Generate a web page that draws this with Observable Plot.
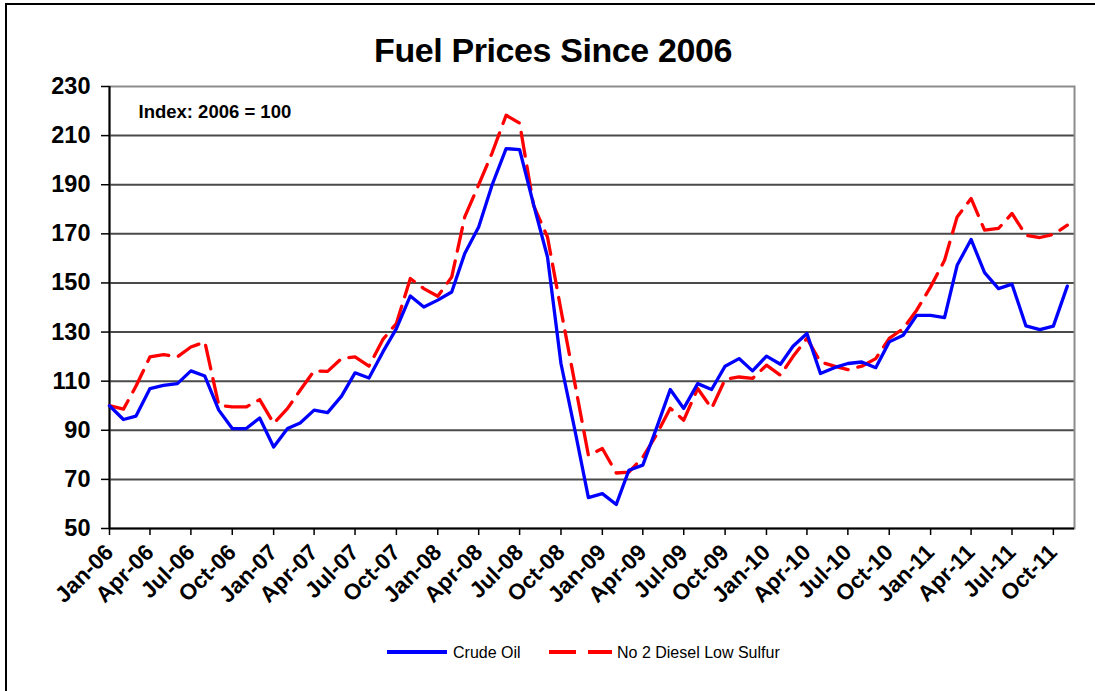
<!DOCTYPE html>
<html>
<head>
<meta charset="utf-8">
<script src="https://cdn.jsdelivr.net/npm/d3@7"></script>
<script src="https://cdn.jsdelivr.net/npm/@observablehq/plot@0.6"></script>
<style>
  body { margin: 0; background: #fff; font-family: "Liberation Sans", Arial, sans-serif; }
  #wrap { position: relative; width: 1095px; height: 691px; overflow: hidden; background: #fff; }
  #frame { position: absolute; left: 5px; top: 3px; width: 1200px; height: 1000px; border: 2px solid #000; box-sizing: border-box; }
  #title { position: absolute; left: 0; width: 1106px; top: 34px; line-height: 33px; text-align: center; font-weight: bold; font-size: 34px; color: #000; letter-spacing: -0.4px; }
  #chart { position: absolute; left: 0; top: 0; }
  #legend { position: absolute; left: 0; top: 630px; }
</style>
</head>
<body>
<div id="wrap">
  <div id="frame"></div>
  <div id="chart"></div>
  <div id="title">Fuel Prices Since 2006</div>
  <svg id="legend" width="1095" height="50" font-family="Liberation Sans, Arial, sans-serif">
    <line x1="387" y1="22" x2="447" y2="22" stroke="#0000ff" stroke-width="4"></line>
    <text x="453" y="27.5" font-size="16" fill="#000">Crude Oil</text>
    <line x1="549" y1="22" x2="612" y2="22" stroke="#ff0000" stroke-width="4" stroke-dasharray="27,12"></line>
    <text x="617" y="27.5" font-size="16" fill="#000">No 2 Diesel Low Sulfur</text>
  </svg>
</div>
<script>
const seriesNames = ["Crude Oil", "No 2 Diesel Low Sulfur"];
const months = d3.utcMonth.range(new Date(Date.UTC(2006, 0, 1)), new Date(Date.UTC(2011, 11, 1)));
const crude = [
  100, 94.4, 95.8, 107, 108.3, 109, 114.2, 112.1, 98.2, 90.7, 90.7, 95,
  83.2, 90.7, 93, 98.2, 97.2, 103.9, 113.4, 111.3, 121.9, 131.4, 144.7, 140.2,
  143, 146.3, 162, 172.8, 190, 204.7, 204.3, 182, 160.6, 117.2, 90, 62.6,
  64.2, 59.8, 73.7, 75.8, 90.7, 106.6, 98.9, 109, 106.6, 116.1, 119.2, 114.2,
  120.2, 116.9, 124.2, 129.4, 113.1, 115.5, 117.2, 117.8, 115.5, 126, 128.7, 136.8,
  136.8, 135.9, 157.2, 167.7, 154.2, 147.7, 149.5, 132.5, 131, 132.4, 148.7
];
const diesel = [
  100, 98.6, 108, 119.9, 120.8, 119.9, 123.9, 126, 100.2, 99.5, 99.5, 102.5,
  92.8, 98.9, 106.3, 114.2, 114, 119.2, 119.9, 116.1, 127, 133.5, 151.8, 147.7,
  144.6, 152.4, 176.9, 190, 203, 218.3, 215.1, 181.6, 168.7, 139, 109, 79.8,
  82.6, 72.6, 73, 79, 88, 99, 94.1, 107, 98.9, 110.7, 111.7, 111.1,
  116.5, 112.4, 120, 127.4, 117.8, 116.1, 114.7, 116.1, 119.2, 127.4, 131.4, 138.9,
  148.4, 159.2, 176.9, 184.4, 171.5, 172.2, 178.3, 169.4, 168.5, 169.8, 173.5
];
const yTicks = [50, 70, 90, 110, 130, 150, 170, 190, 210, 230];
const xStart = new Date(Date.UTC(2006, 0, 1));
const xEnd = new Date(Date.UTC(2011, 10, 17));
const xTicks = d3.utcMonth.every(3).range(xStart, new Date(Date.UTC(2011, 10, 2)));
const annotation = ["Index: 2006 = 100"];

const crudeData = months.map((d, i) => ({date: d, value: crude[i], series: seriesNames[0]}));
const dieselData = months.map((d, i) => ({date: d, value: diesel[i], series: seriesNames[1]}));

const font = "Liberation Sans, Arial, sans-serif";
const chart = Plot.plot({
  width: 1095,
  height: 691,
  marginTop: 86,
  marginLeft: 109,
  marginRight: 21,
  marginBottom: 163,
  style: {background: "transparent", fontFamily: font, color: "#000"},
  x: {type: "utc", domain: [xStart, xEnd]},
  y: {domain: [50, 230]},
  marks: [
    Plot.gridY(yTicks.filter(v => v > 50 && v < 230), {stroke: "#4a4a4a", strokeOpacity: 1, strokeWidth: 2}),
    Plot.frame({stroke: "#8c8c8c", strokeWidth: 2}),
    Plot.ruleX([xStart], {stroke: "#000", strokeWidth: 2}),
    Plot.ruleY([50], {stroke: "#000", strokeWidth: 2}),
    Plot.axisY(yTicks, {tickSize: 8, tickPadding: 11, fontSize: 23.5, fontWeight: "bold", stroke: "#000", strokeWidth: 1.5, fill: "#000", label: null}),
    Plot.axisX(xTicks, {tickFormat: d3.utcFormat("%b-%y"), tickRotate: -45, tickSize: 7, tickPadding: 13, fontSize: 22.5, fontWeight: "bold", stroke: "#000", strokeWidth: 1.5, fill: "#000", label: null}),
    Plot.line(dieselData, {x: "date", y: "value", stroke: "#ff0000", strokeWidth: 3.3, strokeDasharray: "24,10"}),
    Plot.line(crudeData, {x: "date", y: "value", stroke: "#0000ff", strokeWidth: 3.3}),
    Plot.text(annotation, {text: d => d, frameAnchor: "top-left", dx: 29, dy: 18, textAnchor: "start", lineAnchor: "top", fontSize: 18.5, fontWeight: "bold", fill: "#000"})
  ]
});
document.getElementById("chart").appendChild(chart);
</script>
</body>
</html>
